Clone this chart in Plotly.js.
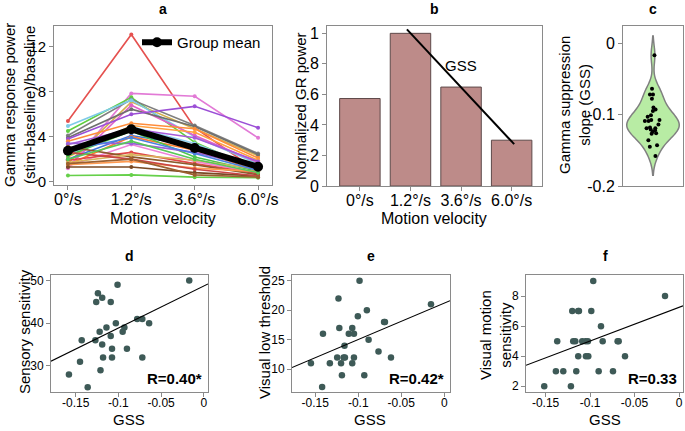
<!DOCTYPE html>
<html><head><meta charset="utf-8">
<script src="https://cdn.plot.ly/plotly-3.0.1.min.js"></script>
<style>html,body{margin:0;padding:0;background:#fff}#chart{width:685px;height:431px}</style>
</head><body><div id="chart"></div>
<script>
// ---------- data ----------
const velocities = ['0°/s', '1.2°/s', '3.6°/s', '6.0°/s'];
// panel a: one row per subject, values at the four velocities
const subjectPower = [
  [5.4, 13.1, 4.8, 0.9],
  [1.2, 7.85, 7.6, 3.9],
  [4.5, 7.5, 3.5, 1.0],
  [4.1, 7.3, 5.0, 2.5],
  [1.6, 7.1, 4.7, 2.3],
  [4.95, 7.25, 4.0, 1.6],
  [1.3, 6.8, 4.1, 1.7],
  [3.9, 6.45, 4.9, 2.4],
  [3.8, 6.0, 6.7, 4.8],
  [3.6, 5.2, 4.7, 2.1],
  [2.2, 5.0, 4.4, 1.9],
  [2.4, 4.9, 3.4, 1.2],
  [2.0, 4.1, 3.2, 1.4],
  [3.3, 4.7, 3.9, 1.8],
  [1.5, 4.0, 2.8, 1.0],
  [2.3, 4.5, 2.2, 0.9],
  [1.4, 3.3, 1.8, 0.8],
  [3.4, 3.4, 2.6, 1.3],
  [1.9, 2.6, 1.6, 0.7],
  [3.1, 2.2, 1.5, 0.6],
  [1.7, 2.4, 1.9, 1.1],
  [1.5, 1.8, 1.2, 0.9],
  [1.3, 1.3, 0.8, 0.5],
  [0.55, 0.6, 0.4, 0.35],
  [2.6, 2.0, 1.1, 0.5],
  [2.8, 3.9, 2.5, 1.0],
  [2.0, 3.6, 2.0, 0.8],
  [1.6, 2.0, 0.6, 0.4]
];
const subjectColors = ['#e5514f','#e27ad6','#5fcf3f','#7f7f7f','#d4b04c','#7ecbe8','#e060c8','#6f6f6f',
  '#9b4fd6','#ff8c3a','#ffa040','#8fd0f0','#3f74d8','#a65ad9','#ff7a2a','#4cc64c','#ee82d8','#9a60d8',
  '#e04848','#8b5a2b','#d9b45e','#ff9a50','#7a4a25','#66d04a','#c84646','#4a80e0','#58c858','#9c6030'];
const groupMean = [2.75, 4.66, 3.0, 1.33];

// panel b
const normPower = [0.573, 1.0, 0.648, 0.30];
const gssLineX = [0.93, 3.05];
const gssLineY = [1.026, 0.274];

// panels d-f: GSS per subject and behavioural scores
const gssD = [-0.158,-0.145,-0.143,-0.136,-0.127,-0.126,-0.124,-0.122,-0.121,-0.119,-0.119,-0.118,-0.114,-0.109,-0.109,-0.1075,-0.1075,-0.103,-0.101,-0.095,-0.093,-0.090,-0.078,-0.072,-0.072,-0.064,-0.017];
const sensory = [28,31,36,25,36,45,47,38,29,46,35,32,39,45,37,34,32,40,49,38,39,34,41,41,32,40,50];
const gssE = [-0.155,-0.142,-0.141,-0.133,-0.1245,-0.123,-0.122,-0.120,-0.119,-0.117,-0.1155,-0.116,-0.111,-0.107,-0.107,-0.105,-0.105,-0.1005,-0.0985,-0.093,-0.090,-0.088,-0.0765,-0.070,-0.069,-0.062,-0.0155];
const lowThreshold = [11,7,16,11,12,22,17,11,9,12,12,14,16,17,11,16,12,19,25,9,20,15,13,18,18,12,21];
const gssF = [-0.1515,-0.1384,-0.1369,-0.1301,-0.1215,-0.120,-0.1189,-0.1166,-0.1155,-0.1133,-0.1125,-0.1133,-0.1088,-0.105,-0.1046,-0.102,-0.1024,-0.0986,-0.0964,-0.0903,-0.0877,-0.0858,-0.0742,-0.069,-0.0678,-0.0607,-0.0157];
const motionSens = [2,3,5,3,2,7,5,5,3,7,7,4,5,5,4,4,5,7,9,3,6,5,3,5,5,4,8];
const gssViolin = gssD;
// regression lines [intercept, slope]
const fitD = [48.7, 98.2];
const fitE = [21.2, 61.6];
const fitF = [7.25, 22.4];
const rLabels = ['R=0.40*', 'R=0.42*', 'R=0.33'];

// ---------- layout helpers ----------
const W = 685, H = 431;
const FONT = 'Liberation Sans, Arial, sans-serif';
const dx = (l, r) => [l / W, r / W];
const dy = (t, b) => [1 - b / H, 1 - t / H];
const px = x => x / W, py = y => 1 - y / H;
const axBase = {showline:true, mirror:true, linecolor:'#8a8a8a', linewidth:1, ticks:'outside', ticklen:4,
  tickcolor:'#8a8a8a', showgrid:false, zeroline:false, automargin:false, fixedrange:true,
  tickfont:{family:FONT, size:15, color:'#000'}};
const ax = o => Object.assign({}, axBase, o, {tickfont: Object.assign({}, axBase.tickfont, o.tickfont || {})});

const traces = [];
subjectPower.forEach((row, i) => {
  traces.push({type:'scatter', mode:'lines+markers', x: velocities, y: row, xaxis:'x', yaxis:'y',
    line:{color: subjectColors[i], width:1.6}, marker:{color: subjectColors[i], size:4}, showlegend:false, hoverinfo:'skip'});
});
traces.push({type:'scatter', mode:'lines+markers', x: velocities, y: groupMean, xaxis:'x', yaxis:'y',
  name:'Group mean', line:{color:'#000', width:6}, marker:{color:'#000', size:10}, showlegend:true});

traces.push({type:'bar', x: velocities.map((v, i) => i), y: normPower, xaxis:'x2', yaxis:'y2', width:0.8,
  marker:{color:'#bd8b89', line:{color:'#5e4a4a', width:1}}, showlegend:false});
traces.push({type:'scatter', mode:'lines', x: gssLineX, y: gssLineY, xaxis:'x2', yaxis:'y2',
  line:{color:'#000', width:2}, showlegend:false});

traces.push({type:'violin', y: gssViolin, x0: 0, xaxis:'x3', yaxis:'y3', points:'all', pointpos:0, jitter:0.35,
  marker:{color:'#000', size:4}, fillcolor:'#b8eca4', line:{color:'#808080', width:1.5},
  box:{visible:false}, meanline:{visible:false}, bandwidth:0.0135, spanmode:'soft', width:1.05, showlegend:false, name:''});

const scatterSets = [
  {x: gssD, y: sensory, fit: fitD, xa:'x4', ya:'y4', xr:[-0.179, 0.005]},
  {x: gssE, y: lowThreshold, fit: fitE, xa:'x5', ya:'y5', xr:[-0.177, 0.0066]},
  {x: gssF, y: motionSens, fit: fitF, xa:'x6', ya:'y6', xr:[-0.172, 0.0045]}
];
scatterSets.forEach(s => {
  traces.push({type:'scatter', mode:'markers', x: s.x, y: s.y, xaxis:s.xa, yaxis:s.ya,
    marker:{color:'#3e5a57', size:6.5}, showlegend:false});
  traces.push({type:'scatter', mode:'lines', x: s.xr, y: s.xr.map(v => s.fit[0] + s.fit[1] * v), xaxis:s.xa, yaxis:s.ya,
    line:{color:'#000', width:1.1}, showlegend:false, hoverinfo:'skip'});
});

const gssTicks = {tickvals:[-0.15,-0.1,-0.05,0], ticktext:['-0.15','-0.1','-0.05','0'], tickfont:{size:12}, ticklabelstandoff:-4};
const layout = {
  width: W, height: H, margin:{l:0, r:0, t:0, b:0}, paper_bgcolor:'#fff', plot_bgcolor:'#fff',
  font:{family:FONT, color:'#000'}, showlegend:true,
  legend:{x: px(137), y: py(26), xanchor:'left', yanchor:'top', bgcolor:'rgba(0,0,0,0)', font:{size:15}},
  xaxis: ax({anchor:'y', domain: dx(54, 272), type:'category', range:[-0.22, 3.22], tickfont:{size:16}, ticklabelstandoff:-4}),
  yaxis: ax({anchor:'x', domain: dy(26, 185), range:[-0.3, 13.85], tickvals:[0,4,8,12]}),
  xaxis2: ax({anchor:'y2', domain: dx(327, 542), range:[-0.65, 3.6], tickvals:[0,1,2,3], ticktext: velocities, tickfont:{size:16}, ticklabelstandoff:-4}),
  yaxis2: ax({anchor:'x2', domain: dy(26, 186), range:[0, 1.048], tickvals:[0,0.2,0.4,0.6,0.8,1], ticktext:['0','.2','.4','.6','.8','1'], tickfont:{size:16}}),
  xaxis3: ax({anchor:'y3', domain: dx(623, 683), type:'linear', range:[-0.6, 0.6], showticklabels:false, ticks:''}),
  yaxis3: ax({anchor:'x3', domain: dy(26, 186), range:[-0.2, 0.024], tickvals:[0,-0.1,-0.2], ticktext:['0','-0.1','-0.2'], tickfont:{size:16}}),
  xaxis4: ax(Object.assign({anchor:'y4', domain: dx(51, 208), range:[-0.179, 0.005]}, gssTicks)),
  yaxis4: ax({anchor:'x4', domain: dy(275, 392), range:[23.9, 51.3], tickvals:[30,40,50], tickfont:{size:12}}),
  xaxis5: ax(Object.assign({anchor:'y5', domain: dx(292, 450), range:[-0.177, 0.0066]}, gssTicks)),
  yaxis5: ax({anchor:'x5', domain: dy(275, 392), range:[6.15, 25.97], tickvals:[10,15,20,25], tickfont:{size:12}}),
  xaxis6: ax(Object.assign({anchor:'y6', domain: dx(526, 683), range:[-0.172, 0.0045]}, gssTicks)),
  yaxis6: ax({anchor:'x6', domain: dy(275, 392), range:[1.62, 9.4], tickvals:[2,4,6,8], tickfont:{size:12}}),
  annotations: []
};
function ann(text, x, y, o) {
  layout.annotations.push(Object.assign({text, x: px(x), y: py(y), xref:'paper', yref:'paper', showarrow:false,
    xanchor:'center', yanchor:'middle', font:{family:FONT, size:15, color:'#000'}}, o || {}));
}
// panel letters
[['a',163,9],['b',434,9],['c',653,9],['d',129,256],['e',371,256],['f',605,256]].forEach(t =>
  ann('<b>' + t[0] + '</b>', t[1], t[2], {font:{family:FONT, size:14, color:'#000'}}));
// axis titles
ann('Gamma response power<br>(stim-baseline)/baseline', 19, 105, {textangle:-90});
ann('Motion velocity', 163, 218, {font:{family:FONT, size:16, color:'#000'}});
ann('Normalized GR power', 300, 106, {textangle:-90});
ann('Motion velocity', 434, 218, {font:{family:FONT, size:16, color:'#000'}});
ann('Gamma suppression<br>slope (GSS)', 574, 105, {textangle:-90});
ann('Sensory sensitivity', 24, 332, {textangle:-90});
ann('Visual low threshold', 264, 333, {textangle:-90});
ann('Visual motion<br>sensitivity', 495, 335, {textangle:-90});
ann('GSS', 129, 419); ann('GSS', 370, 419); ann('GSS', 605, 419);
// in-plot text
layout.annotations.push({text:'GSS', x:2.0, y:0.79, xref:'x2', yref:'y2', showarrow:false, font:{family:FONT, size:15, color:'#000'}});
[['x4','y4'],['x5','y5'],['x6','y6']].forEach((r, i) => {
  layout.annotations.push({text:'<b>' + rLabels[i] + '</b>', x:1, y:0, xref: r[0] + ' domain', yref: r[1] + ' domain',
    xanchor:'right', yanchor:'bottom', xshift:-4, yshift:3, showarrow:false, font:{family:FONT, size:15, color:'#000'}});
});

Plotly.newPlot('chart', traces, layout, {staticPlot:true, displayModeBar:false});
</script></body></html>
